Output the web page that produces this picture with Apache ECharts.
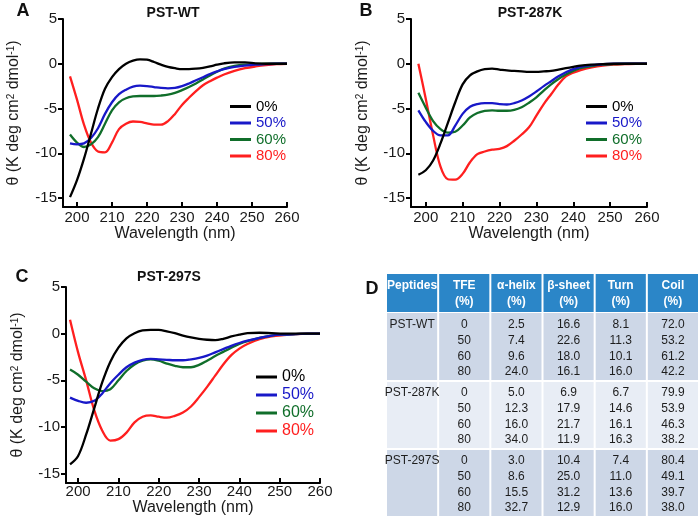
<!DOCTYPE html>
<html><head><meta charset="utf-8">
<script src="https://cdn.jsdelivr.net/npm/echarts@6/dist/echarts.min.js"></script>
<style>html,body{margin:0;padding:0;background:#fff}#c{width:700px;height:521px}</style>
</head><body><div id="c"></div>
<script>
// ---------- data ----------
const wavelengths = [198,200,202,204,206,208,210,212,214,216,218,220,222,224,226,228,230,232,234,236,238,240,242,245,248,251,254,257,260];
const seriesNames = ['0%','50%','60%','80%'];

const wt_0  = [-14.9,-13.0,-10.6,-7.8,-5.0,-2.8,-1.5,-0.6,0.0,0.35,0.5,0.45,0.2,-0.1,-0.35,-0.5,-0.6,-0.6,-0.55,-0.45,-0.3,-0.1,0.05,0.15,0.15,0.05,0,0,0];
const wt_50 = [-8.9,-9.0,-8.9,-8.3,-7.2,-5.6,-4.3,-3.4,-2.9,-2.55,-2.45,-2.5,-2.6,-2.7,-2.75,-2.7,-2.5,-2.2,-1.85,-1.5,-1.15,-0.85,-0.6,-0.35,-0.2,-0.1,-0.05,0,0];
const wt_60 = [-7.9,-8.8,-9.3,-9.0,-8.2,-6.7,-5.2,-4.3,-3.85,-3.65,-3.6,-3.6,-3.6,-3.55,-3.45,-3.25,-2.95,-2.6,-2.2,-1.75,-1.3,-0.9,-0.55,-0.25,-0.1,-0.05,0,0,0];
const wt_80 = [-1.4,-4.0,-6.8,-8.8,-9.8,-9.9,-8.8,-7.3,-6.7,-6.45,-6.5,-6.65,-6.8,-6.8,-6.4,-5.6,-4.6,-3.8,-3.05,-2.4,-1.95,-1.55,-1.2,-0.8,-0.5,-0.3,-0.15,-0.05,0];

const k287_0  = [-12.4,-11.9,-10.8,-8.9,-6.6,-4.3,-2.3,-1.3,-0.85,-0.6,-0.55,-0.65,-0.75,-0.8,-0.85,-0.9,-0.9,-0.85,-0.8,-0.65,-0.5,-0.35,-0.2,-0.1,-0.05,0,0,0,0];
const k287_50 = [-5.2,-6.5,-7.5,-8.0,-8.0,-6.9,-5.6,-4.8,-4.5,-4.4,-4.4,-4.5,-4.55,-4.4,-4.1,-3.65,-3.1,-2.5,-1.95,-1.4,-0.95,-0.6,-0.35,-0.15,-0.05,0,0,0,0];
const k287_60 = [-3.25,-4.9,-6.4,-7.3,-7.7,-7.6,-6.9,-6.0,-5.5,-5.25,-5.2,-5.25,-5.25,-5.15,-4.85,-4.35,-3.75,-3.0,-2.3,-1.7,-1.2,-0.8,-0.5,-0.25,-0.1,-0.05,0,0,0];
const k287_80 = [0.0,-3.9,-8.0,-11.5,-12.9,-12.95,-12.3,-11.0,-10.1,-9.8,-9.6,-9.5,-9.2,-8.6,-7.9,-7.1,-5.8,-4.5,-3.4,-2.3,-1.4,-1.0,-0.7,-0.4,-0.2,-0.1,-0.05,0,0];

const s297_0  = [-14.0,-13.1,-10.8,-8.0,-5.2,-3.0,-1.5,-0.5,0.05,0.35,0.4,0.4,0.25,0.05,-0.2,-0.4,-0.55,-0.65,-0.7,-0.55,-0.3,-0.1,0.05,0.1,0.05,0,0,0,0];
const s297_50 = [-6.85,-7.2,-7.4,-7.2,-6.4,-5.3,-4.4,-3.6,-3.1,-2.8,-2.7,-2.75,-2.8,-2.85,-2.85,-2.75,-2.6,-2.35,-2.0,-1.65,-1.3,-1.0,-0.75,-0.45,-0.2,-0.1,-0.05,0,0];
const s297_60 = [-3.85,-4.4,-5.15,-5.85,-6.15,-5.95,-5.0,-4.0,-3.3,-2.9,-2.75,-2.9,-3.2,-3.45,-3.6,-3.6,-3.35,-2.9,-2.4,-1.95,-1.5,-1.1,-0.8,-0.45,-0.2,-0.1,-0.05,0,0];
const s297_80 = [1.5,-2.0,-5.0,-8.2,-10.4,-11.45,-11.3,-10.6,-9.5,-8.9,-8.75,-8.9,-9.0,-8.8,-8.45,-7.8,-6.8,-5.7,-4.5,-3.3,-2.3,-1.6,-1.1,-0.6,-0.3,-0.15,-0.05,0,0];

const xTicks = [200,210,220,230,240,250,260];
const yTicks = [-15,-10,-5,0,5];
const panelTitles = ['PST-WT','PST-287K','PST-297S'];
const panelLetters = ['A','B','C','D'];

const tableHeaders = ['Peptides','TFE\n(%)','\u03b1-helix\n(%)','\u03b2-sheet\n(%)','Turn\n(%)','Coil\n(%)'];
const peptides = ['PST-WT','PST-287K','PST-297S'];
const tfeLevels = [0,50,60,80];
const helix = [[2.5,7.4,9.6,24.0],[5.0,12.3,16.0,34.0],[3.0,8.6,15.5,32.7]];
const sheet = [[16.6,22.6,18.0,16.1],[6.9,17.9,21.7,11.9],[10.4,25.0,31.2,12.9]];
const turn  = [[8.1,11.3,10.1,16.0],[6.7,14.6,16.1,16.3],[7.4,11.0,13.6,16.0]];
const coil  = [[72.0,53.2,61.2,42.2],[79.9,53.9,46.3,38.2],[80.4,49.1,39.7,38.0]];

// ---------- layout / style ----------
const FONT = '"Liberation Sans", Arial, sans-serif';
const lineColors = ['#000000','#1818c8','#106e2a','#ff1f1f'];
const panelSeries = [[wt_0,wt_50,wt_60,wt_80],[k287_0,k287_50,k287_60,k287_80],[s297_0,s297_50,s297_60,s297_80]];
const panels = [
  {left:63, top:19, width:224, height:188, xMin:196, lgLeft:230, lgTop:99, lgFont:15, lgGap:1.5, ygap:41, xgap:17, lm:3, title:[173,13], letter:[23,11]},
  {left:411, top:19, width:236, height:188, xMin:196, lgLeft:586, lgTop:99, lgFont:15, lgGap:1.5, ygap:40, xgap:17, lm:3, title:[530,13], letter:[366,11]},
  {left:66, top:287, width:254, height:196, xMin:197, lgLeft:256, lgTop:369, lgFont:16, lgGap:2, ygap:40, xgap:16, lm:1, title:[169,277], letter:[22,277]}
];

const grid = [], xAxis = [], yAxis = [], series = [], legend = [], graphic = [];
panels.forEach((p,i)=>{
  grid.push({left:p.left, top:p.top, width:p.width, height:p.height, containLabel:false, outerBoundsMode:'none'});
  xAxis.push({type:'value', gridIndex:i, min:p.xMin, max:260,
    axisLine:{onZero:false, lineStyle:{color:'#000', width:2}},
    axisTick:{inside:true, length:5, lineStyle:{color:'#000', width:2}, customValues:xTicks},
    axisLabel:{customValues:xTicks, fontSize:15, color:'#1a1a1a', fontFamily:FONT, margin:p.lm},
    splitLine:{show:false},
    name:'Wavelength (nm)', nameLocation:'middle', nameGap:p.xgap,
    nameTextStyle:{fontSize:16, color:'#1a1a1a', fontFamily:FONT}});
  yAxis.push({type:'value', gridIndex:i, min:-16, max:5,
    axisLine:{onZero:false, lineStyle:{color:'#000', width:2}},
    axisTick:{inside:false, length:5, lineStyle:{color:'#000', width:2}, customValues:yTicks},
    axisLabel:{customValues:yTicks, fontSize:15, color:'#1a1a1a', fontFamily:FONT, margin:6},
    splitLine:{show:false},
    name:'\u03b8 (K deg cm{sup|2} dmol{sup|-1})', nameLocation:'middle', nameRotate:90, nameGap:p.ygap,
    nameTextStyle:{fontSize:16, color:'#1a1a1a', fontFamily:FONT,
      rich:{sup:{fontSize:10, verticalAlign:'top', fontFamily:FONT, color:'#1a1a1a'}}}});
  panelSeries[i].forEach((vals,k)=>{
    series.push({type:'line', name:seriesNames[k], xAxisIndex:i, yAxisIndex:i,
      data: wavelengths.map((w,j)=>[w, vals[j]]), smooth:0.35, symbol:'none',
      lineStyle:{color:lineColors[k], width:2.3}, itemStyle:{color:lineColors[k]}, silent:true, z:10-k});
  });
  legend.push({orient:'vertical', left:p.lgLeft, top:p.lgTop, icon:'rect', itemWidth:21, itemHeight:3,
    itemGap:p.lgGap, selectedMode:false, padding:0,
    data: seriesNames.map((n,k)=>({name:n, textStyle:{color:lineColors[k]}})),
    textStyle:{fontSize:p.lgFont, lineHeight:p.lgFont, fontFamily:FONT}});
  graphic.push({type:'text', x:p.title[0], y:p.title[1], silent:true,
    style:{text:panelTitles[i], font:'bold 14px '+FONT, fill:'#111', textAlign:'center', textVerticalAlign:'middle'}});
  graphic.push({type:'text', x:p.letter[0], y:p.letter[1], silent:true,
    style:{text:panelLetters[i], font:'bold 18px '+FONT, fill:'#111', textAlign:'center', textVerticalAlign:'middle'}});
});
graphic.push({type:'text', x:372, y:289, silent:true,
  style:{text:panelLetters[3], font:'bold 18px '+FONT, fill:'#111', textAlign:'center', textVerticalAlign:'middle'}});

// ---------- table (panel D) ----------
const TL = 386, TW = 313;
grid.push({left:TL, top:274, width:TW, height:38, outerBoundsMode:'none'});
grid.push({left:TL, top:313, width:TW, height:204, outerBoundsMode:'none'});
xAxis.push({type:'category', gridIndex:3, data:tableHeaders, show:false});
yAxis.push({type:'category', gridIndex:3, data:['header'], show:false});
xAxis.push({type:'category', gridIndex:4, data:tableHeaders, show:false});
yAxis.push({type:'category', gridIndex:4, data:peptides, inverse:true, show:false});

const headerCells = tableHeaders.map((h,c)=>[c,0]);
const bodyCells = [];
peptides.forEach((p,g)=>tableHeaders.forEach((h,c)=>bodyCells.push([c,g])));
const colData = [null, null, helix, sheet, turn, coil];
function cellText(c,g){
  if (c===0) return peptides[g];
  if (c===1) return tfeLevels.map(String).join('\n');
  return colData[c][g].map(v=>v.toFixed(1)).join('\n');
}
series.push({type:'custom', xAxisIndex:3, yAxisIndex:3, data:headerCells, silent:true,
  renderItem(params, api){
    const c = api.value(0), ctr = api.coord([c,0]), sz = api.size([1,1]);
    const x0 = ctr[0]-sz[0]/2, y0 = ctr[1]-sz[1]/2;
    return {type:'group', children:[
      {type:'rect', shape:{x:x0+1, y:y0, width:sz[0]-2, height:sz[1]}, style:{fill:'#2b86c8'}},
      {type:'text', x:ctr[0], y:y0+4, style:{text:tableHeaders[c], textAlign:'center', textVerticalAlign:'top',
        font:'bold 12px '+FONT, lineHeight:16, fill:'#ffffff'}}
    ]};
  }});
series.push({type:'custom', xAxisIndex:4, yAxisIndex:4, data:bodyCells, silent:true,
  renderItem(params, api){
    const c = api.value(0), g = api.value(1), ctr = api.coord([c,g]), sz = api.size([1,1]);
    const x0 = ctr[0]-sz[0]/2, y0 = ctr[1]-sz[1]/2;
    return {type:'group', children:[
      {type:'rect', shape:{x:x0+1, y:y0+(g?1:0), width:sz[0]-2, height:sz[1]-(g?1:0)-1}, style:{fill: g%2 ? '#e8edf5' : '#cdd7e7'}},
      {type:'text', x:ctr[0], y:y0+4, style:{text:cellText(c,g), textAlign:'center', textVerticalAlign:'top',
        font:'12px '+FONT, lineHeight:15.7, fill:'#1d1d1d'}}
    ]};
  }});

const chart = echarts.init(document.getElementById('c'), null, {renderer:'canvas'});
chart.setOption({animation:false, backgroundColor:'#ffffff', grid, xAxis, yAxis, series, legend, graphic});
</script></body></html>
